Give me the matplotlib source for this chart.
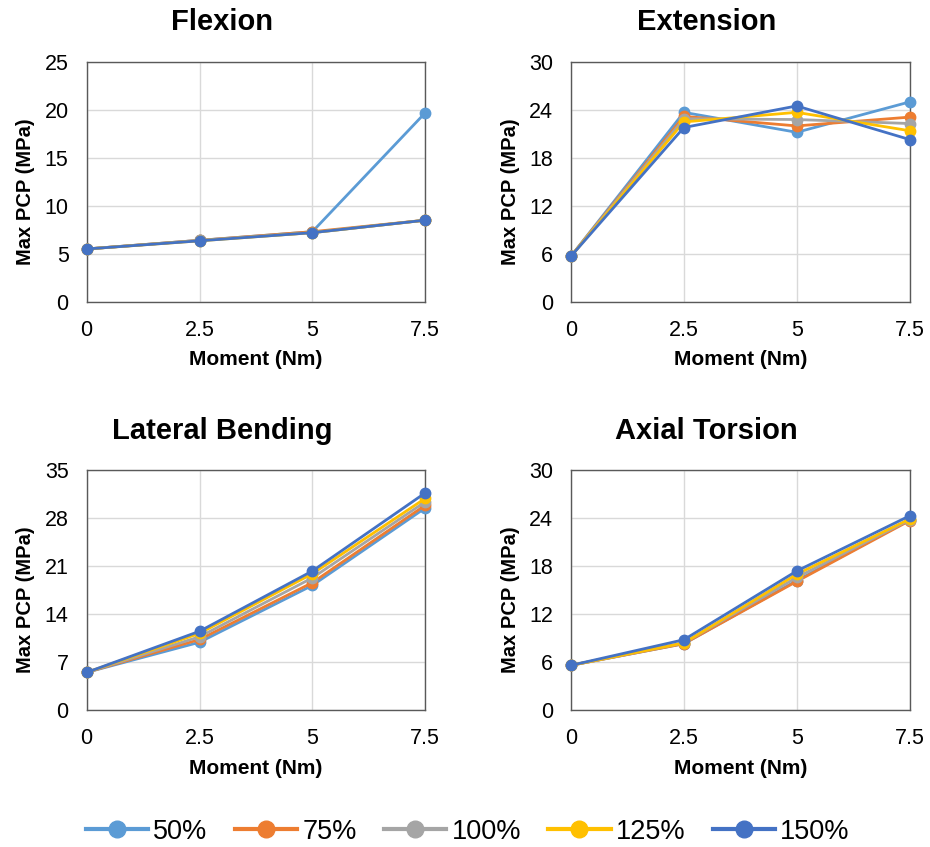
import matplotlib
matplotlib.use("Agg")
import matplotlib.pyplot as plt
from matplotlib.ticker import FixedLocator

plt.rcParams['font.family'] = ['Liberation Sans', 'DejaVu Sans']

moment = [0, 2.5, 5, 7.5]
labels = ['50%', '75%', '100%', '125%', '150%']
colors = ['#5B9BD5', '#ED7D31', '#A5A5A5', '#FFC000', '#4472C4']

# max PCP (MPa) per series
flexion = [
    [5.5, 6.4, 7.3, 19.7],
    [5.5, 6.4, 7.3, 8.5],
    [5.5, 6.4, 7.2, 8.5],
    [5.5, 6.35, 7.2, 8.5],
    [5.5, 6.35, 7.2, 8.5],
]
extension = [
    [5.7, 23.7, 21.2, 25.0],
    [5.7, 23.2, 22.0, 23.1],
    [5.7, 22.9, 22.8, 22.3],
    [5.7, 22.5, 23.7, 21.4],
    [5.7, 21.8, 24.5, 20.3],
]
lateral = [
    [5.5, 9.9, 18.2, 29.5],
    [5.5, 10.3, 18.6, 29.9],
    [5.5, 10.7, 19.3, 30.4],
    [5.5, 11.2, 19.9, 30.9],
    [5.5, 11.5, 20.3, 31.7],
]
axial = [
    [5.6, 8.3, 16.2, 23.8],
    [5.6, 8.3, 16.1, 23.7],
    [5.6, 8.4, 16.6, 23.8],
    [5.6, 8.4, 17.0, 23.9],
    [5.6, 8.8, 17.4, 24.3],
]

panels = [
    ('Flexion', flexion, 25, [0, 5, 10, 15, 20, 25], [0.0932, 0.6438]),
    ('Extension', extension, 30, [0, 6, 12, 18, 24, 30], [0.614, 0.6438]),
    ('Lateral Bending', lateral, 35, [0, 7, 14, 21, 28, 35], [0.0932, 0.1617]),
    ('Axial Torsion', axial, 30, [0, 6, 12, 18, 24, 30], [0.614, 0.1617]),
]

fig = plt.figure(figsize=(9.3, 8.47), dpi=100)

for title, data, ymax, yticks, (left, bottom) in panels:
    ax = fig.add_axes([left, bottom, 0.3640, 0.2830])
    for vals, lab, col in zip(data, labels, colors):
        ax.plot(moment, vals, '-o', color=col, lw=2.0, ms=7.5, label=lab, clip_on=False, zorder=3)
    ax.set_xlim(0, 7.5)
    ax.set_ylim(0, ymax)
    ax.xaxis.set_major_locator(FixedLocator(moment))
    ax.set_xticklabels(['0', '2.5', '5', '7.5'])
    ax.yaxis.set_major_locator(FixedLocator(yticks))
    ax.grid(True, color='#D9D9D9', lw=1.0)
    ax.set_axisbelow(True)
    for sp in ax.spines.values():
        sp.set_color('#595959')
        sp.set_linewidth(1.0)
    ax.tick_params(length=0, labelsize=15.5, pad=13)
    ax.set_xlabel('Moment (Nm)', fontsize=15, fontweight='bold', labelpad=7)
    ax.set_ylabel('Max PCP (MPa)', fontsize=14.5, fontweight='bold')
    ax.yaxis.set_label_coords(-0.152, 0.46)
    cx = left + 0.3640 / 2 - 0.036
    fig.text(cx, bottom + 0.2830 + 0.047, title, ha='center', va='center',
             fontsize=21, fontweight='bold')

handles, leg_labels = ax.get_legend_handles_labels()
leg = fig.legend(handles, leg_labels, loc='center', bbox_to_anchor=(0.503, 0.018), ncol=5,
                 frameon=False, fontsize=19.5, handlelength=2.3, handletextpad=0.2,
                 columnspacing=1.0, borderaxespad=0, markerscale=1.6)
for h in leg.legend_handles:
    h.set_linewidth(3.0)

fig.savefig('out.png', dpi=100)
